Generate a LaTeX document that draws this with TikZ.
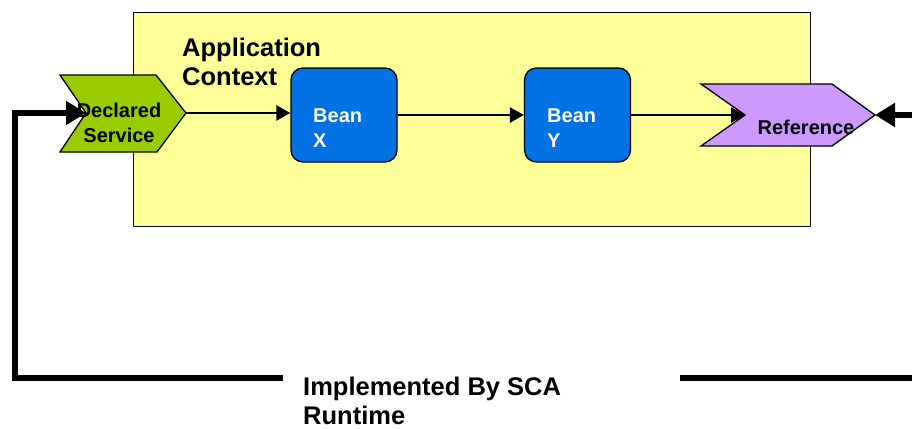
\documentclass[tikz,border=0pt]{standalone}
\usepackage{fontspec}
\setmainfont{Liberation Sans}
\usetikzlibrary{arrows.meta}
\definecolor{ctxyellow}{HTML}{FFFF99}
\definecolor{svcgreen}{HTML}{99CC00}
\definecolor{reflilac}{HTML}{CC99FF}
\definecolor{beanblue}{RGB}{0,114,227}
\begin{document}
\begin{tikzpicture}[x=1pt,y=-1pt,
  outline/.style={draw=black,line width=1.3pt,line join=miter},
  bean/.style={outline,fill=beanblue,rounded corners=12pt,
    minimum width=106pt,minimum height=94pt,inner sep=0pt},
  smalltext/.style={font=\bfseries\fontsize{20}{24.5}\selectfont,inner sep=0pt},
  bigtext/.style={font=\bfseries\fontsize{25.5}{28.5}\selectfont,inner sep=0pt,align=left},
  flow/.style={line width=2.5pt,-{Triangle[length=14pt,width=15pt]}},
  runtime/.style={line width=6.5pt,line join=miter,-{Triangle[length=20pt,width=23pt]}}]
\useasboundingbox (0,0) rectangle (912,428);
\clip (0,0) rectangle (912,428);

% application context (multi-line labels are placed by their last baseline)
\node[outline,fill=ctxyellow,minimum width=677pt,minimum height=214pt,
  inner sep=0pt,anchor=north west] (ctx) at (133,12) {};
\node[bigtext,anchor=base west] (ctxlbl) at (182,85) {Application\\Context};

% declared service chevron
\coordinate (svcnotch) at (86,113);
\coordinate (svctip) at (186,113);
\draw[outline,fill=svcgreen] (60,75) -- (156,75) -- (svctip) -- (157,152)
  -- (60,152) -- (svcnotch) -- cycle;
\node[smalltext,align=center,anchor=base] (svclbl) at (119,142) {Declared\\Service};

% reference chevron
\coordinate (refnotch) at (745,115);
\coordinate (reftip) at (875,115);
\draw[outline,fill=reflilac] (701,84) -- (832,84) -- (reftip) -- (832,146)
  -- (701,146) -- (refnotch) -- cycle;
\node[smalltext,anchor=base] (reflbl) at (806,134) {Reference};

% beans
\node[bean] (beanx) at (344,115) {};
\node[smalltext,text=white,align=left,anchor=base west] (beanxlbl) at (313,147) {Bean\\X};
\node[bean] (beany) at (577.5,115) {};
\node[smalltext,text=white,align=left,anchor=base west] (beanylbl) at (547,147) {Bean\\Y};

% wiring inside the context
\draw[flow] (svctip) -- (beanx.west |- svctip);
\draw[flow] (beanx.east) -- (beany.west);
\draw[flow] (beany.east) -- (refnotch);

% SCA runtime loop
\node[bigtext,anchor=base west] (sca) at (303,424) {Implemented By SCA\\Runtime};
\coordinate (loopleft) at (283,378);
\coordinate (loopright) at (680,378);
\draw[runtime] (loopleft) -- (15,378) -- (15,113) -- (svcnotch);
\draw[runtime] (loopright) -- (930,378) -- (930,115) -- (reftip);
\end{tikzpicture}
\end{document}
